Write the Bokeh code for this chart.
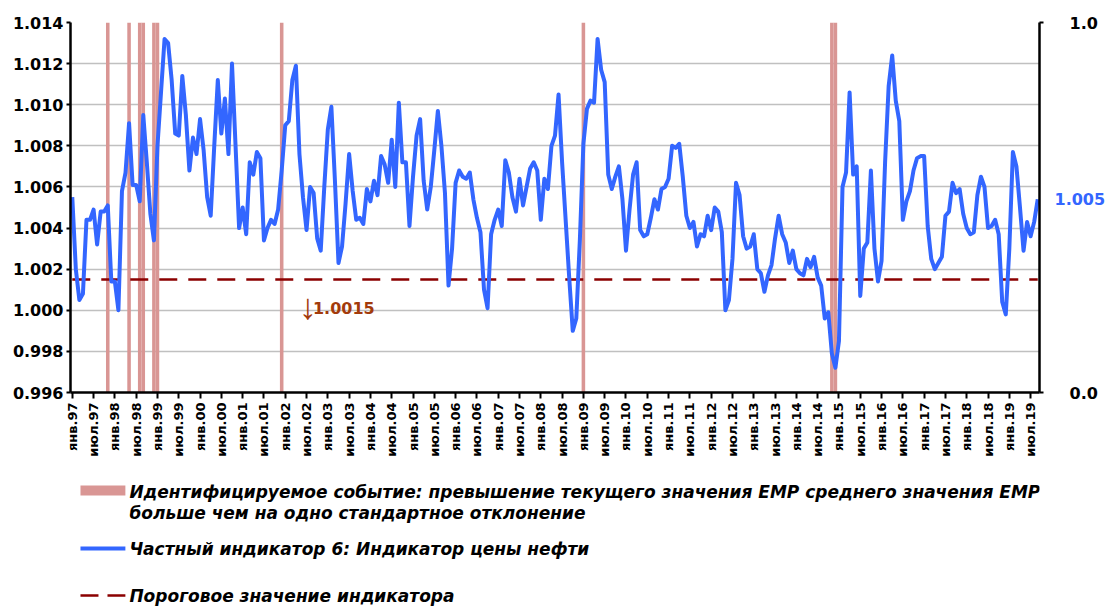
import math
from bokeh.plotting import figure
from bokeh.models import Range1d, LinearAxis, FixedTicker, Label, NumeralTickFormatter
from bokeh.layouts import column
from bokeh.embed import file_html
from bokeh.resources import INLINE

# ---------------- data ----------------
values_1997 = [1.0055, 1.0020, 1.0005, 1.0008, 1.0044, 1.0044, 1.0049, 1.0032, 1.0048, 1.0048, 1.0051, 1.0014]
values_1998 = [1.0014, 1.0000, 1.0058, 1.0067, 1.0091, 1.0061, 1.0061, 1.0053, 1.0095, 1.0072, 1.0047, 1.0034]
values_1999 = [1.0080, 1.0106, 1.0132, 1.0130, 1.0112, 1.0086, 1.0085, 1.0114, 1.0095, 1.0068, 1.0084, 1.0076]
values_2000 = [1.0093, 1.0078, 1.0055, 1.0046, 1.0080, 1.0112, 1.0086, 1.0103, 1.0076, 1.0120, 1.0080, 1.0040]
values_2001 = [1.0050, 1.0037, 1.0072, 1.0066, 1.0077, 1.0074, 1.0034, 1.0040, 1.0044, 1.0042, 1.0049, 1.0068]
values_2002 = [1.0090, 1.0092, 1.0112, 1.0119, 1.0076, 1.0055, 1.0039, 1.0060, 1.0057, 1.0035, 1.0029, 1.0060]
values_2003 = [1.0088, 1.0099, 1.0063, 1.0023, 1.0031, 1.0052, 1.0076, 1.0058, 1.0044, 1.0045, 1.0042, 1.0059]
values_2004 = [1.0053, 1.0063, 1.0056, 1.0075, 1.0071, 1.0062, 1.0083, 1.0060, 1.0101, 1.0072, 1.0072, 1.0041]
values_2005 = [1.0065, 1.0085, 1.0093, 1.0063, 1.0049, 1.0060, 1.0078, 1.0097, 1.0080, 1.0057, 1.0012, 1.0030]
values_2006 = [1.0062, 1.0068, 1.0065, 1.0064, 1.0067, 1.0054, 1.0045, 1.0038, 1.0010, 1.0001, 1.0037, 1.0044]
values_2007 = [1.0049, 1.0041, 1.0073, 1.0067, 1.0055, 1.0048, 1.0064, 1.0051, 1.0060, 1.0069, 1.0072, 1.0068]
values_2008 = [1.0044, 1.0064, 1.0059, 1.0080, 1.0085, 1.0105, 1.0072, 1.0044, 1.0016, 0.9990, 0.9996, 1.0034]
values_2009 = [1.0081, 1.0098, 1.0102, 1.0101, 1.0132, 1.0117, 1.0111, 1.0066, 1.0059, 1.0065, 1.0070, 1.0054]
values_2010 = [1.0029, 1.0049, 1.0066, 1.0072, 1.0039, 1.0036, 1.0037, 1.0045, 1.0054, 1.0049, 1.0059, 1.0060]
values_2011 = [1.0064, 1.0080, 1.0079, 1.0081, 1.0065, 1.0046, 1.0040, 1.0043, 1.0031, 1.0037, 1.0036, 1.0046]
values_2012 = [1.0039, 1.0050, 1.0048, 1.0038, 1.0000, 1.0005, 1.0025, 1.0062, 1.0056, 1.0036, 1.0030, 1.0031]
values_2013 = [1.0037, 1.0020, 1.0018, 1.0009, 1.0017, 1.0022, 1.0035, 1.0046, 1.0037, 1.0033, 1.0023, 1.0029]
values_2014 = [1.0020, 1.0018, 1.0017, 1.0025, 1.0021, 1.0026, 1.0016, 1.0012, 0.9996, 0.9999, 0.9979, 0.9972]
values_2015 = [0.9985, 1.0060, 1.0067, 1.0106, 1.0066, 1.0070, 1.0007, 1.0030, 1.0033, 1.0068, 1.0030, 1.0014]
values_2016 = [1.0024, 1.0072, 1.0109, 1.0124, 1.0102, 1.0092, 1.0044, 1.0053, 1.0058, 1.0068, 1.0074, 1.0075]
values_2017 = [1.0075, 1.0041, 1.0025, 1.0020, 1.0023, 1.0026, 1.0046, 1.0048, 1.0062, 1.0057, 1.0059, 1.0047]
values_2018 = [1.0040, 1.0037, 1.0038, 1.0056, 1.0065, 1.0060, 1.0040, 1.0041, 1.0044, 1.0037, 1.0004, 0.9998]
values_2019 = [1.0030, 1.0077, 1.0070, 1.0050, 1.0029, 1.0043, 1.0036, 1.0043, 1.0054]

oil_indicator = (values_1997 + values_1998 + values_1999 + values_2000 + values_2001 + values_2002
                 + values_2003 + values_2004 + values_2005 + values_2006 + values_2007 + values_2008
                 + values_2009 + values_2010 + values_2011 + values_2012 + values_2013 + values_2014
                 + values_2015 + values_2016 + values_2017 + values_2018 + values_2019)
months = list(range(len(oil_indicator)))          # 0 = янв.97

threshold_value = 1.0015
threshold = [threshold_value] * len(months)

# months (index from янв.97) in which the event was identified
event_months = [10, 16, 19, 20, 23, 24, 59, 144, 214, 215]
event_values = [1] * len(event_months)

tick_labels = ["янв.97", "июл.97", "янв.98", "июл.98", "янв.99", "июл.99", "янв.00", "июл.00",
               "янв.01", "июл.01", "янв.02", "июл.02", "янв.03", "июл.03", "янв.04", "июл.04",
               "янв.05", "июл.05", "янв.06", "июл.06", "янв.07", "июл.07", "янв.08", "июл.08",
               "янв.09", "июл.09", "янв.10", "июл.10", "янв.11", "июл.11", "янв.12", "июл.12",
               "янв.13", "июл.13", "янв.14", "июл.14", "янв.15", "июл.15", "янв.16", "июл.16",
               "янв.17", "июл.17", "янв.18", "июл.18", "янв.19", "июл.19"]
tick_positions = [6 * k for k in range(len(tick_labels))]
left_ticks = [0.996, 0.998, 1.000, 1.002, 1.004, 1.006, 1.008, 1.010, 1.012, 1.014]
right_ticks = [0, 1]

legend_event = ["Идентифицируемое событие: превышение текущего значения  EMP среднего значения  EMP",
                "больше чем на одно стандартное отклонение"]
legend_line = "Частный индикатор 6: Индикатор цены нефти"
legend_threshold = "Пороговое значение  индикатора"

BLUE = "#3366FF"
PINK = "#D99694"
DARKRED = "#8B0000"
BROWN = "#A33B0B"
FONT = "DejaVu Sans"

# page geometry of the plotting frame
FRAME_L, FRAME_R = 70, 1041
FIG_W = 1108

# ---------------- main chart ----------------
p = figure(width=FIG_W, height=470, output_backend="svg", toolbar_location=None,
           x_range=Range1d(-0.5, len(months) - 0.5), y_range=Range1d(0.996, 1.014),
           min_border_left=FRAME_L, min_border_right=FIG_W - FRAME_R,
           min_border_top=22, min_border_bottom=78)
p.outline_line_color = None
p.extra_y_ranges = {"ev": Range1d(0, 1)}

p.vbar(x=event_months, top=event_values, bottom=0, width=1.0, y_range_name="ev",
       fill_color=PINK, line_color=None)
p.line(months, threshold, line_color=DARKRED, line_width=2.5, line_dash="18 11")
p.line(months, oil_indicator, line_color=BLUE, line_width=4, line_join="round")

p.xgrid.visible = False
p.ygrid.grid_line_color = "#C0C0C0"
p.ygrid.grid_line_width = 1.5

yax = p.yaxis[0]
yax.ticker = FixedTicker(ticks=left_ticks)
yax.formatter = NumeralTickFormatter(format="0.000")

rax = LinearAxis(y_range_name="ev", ticker=FixedTicker(ticks=right_ticks),
                 formatter=NumeralTickFormatter(format="0.0"))
p.add_layout(rax, "right")

xax = p.xaxis[0]
xax.ticker = FixedTicker(ticks=tick_positions)
xax.major_label_overrides = {pos: lab for pos, lab in zip(tick_positions, tick_labels)}
xax.major_label_orientation = math.pi / 2
xax.major_label_text_font_size = "13px"
xax.major_tick_out = 6
xax.major_label_standoff = 4

for ax in (yax, rax, xax):
    ax.axis_line_color = "black"
    ax.axis_line_width = 2.5
    ax.major_tick_line_color = "black"
    ax.major_tick_line_width = 2
    ax.major_tick_in = 0
    ax.minor_tick_line_color = None
    ax.major_label_text_font = FONT
    ax.major_label_text_font_style = "bold"
    ax.major_label_text_color = "black"
for ax in (yax, rax):
    ax.major_label_text_font_size = "16px"
    ax.major_tick_out = 4
yax.major_label_standoff = 3
rax.major_label_standoff = 26

# data label of the last point, shown at the right side as an extra (line-less) axis label
last_val = oil_indicator[-1]
lab_ax = LinearAxis(ticker=FixedTicker(ticks=[last_val]), formatter=NumeralTickFormatter(format="0.000"))
lab_ax.axis_line_color = None
lab_ax.major_tick_line_color = None
lab_ax.minor_tick_line_color = None
lab_ax.major_tick_out = 0
lab_ax.major_tick_in = 0
lab_ax.major_label_standoff = -46
lab_ax.major_label_text_color = BLUE
lab_ax.major_label_text_font = FONT
lab_ax.major_label_text_font_style = "bold"
lab_ax.major_label_text_font_size = "16px"
p.add_layout(lab_ax, "right")

p.add_layout(Label(x=63.9, y=1.00018, text="↓", text_color=BROWN, text_font="Liberation Sans",
                   text_font_size="36px", text_baseline="middle", text_align="left"))
p.add_layout(Label(x=67.8, y=1.00013, text=f"{threshold_value:.4f}", text_color=BROWN,
                   text_font=FONT, text_font_style="bold", text_font_size="16px",
                   text_baseline="middle", text_align="left"))

# ---------------- legend (coordinates = page pixels) ----------------
q = figure(width=FIG_W, height=138, output_backend="svg", toolbar_location=None,
           x_range=Range1d(FRAME_L, FRAME_R), y_range=Range1d(608, 470),
           min_border_left=FRAME_L, min_border_right=FIG_W - FRAME_R,
           min_border_top=0, min_border_bottom=0,
           x_axis_location=None, y_axis_location=None)
q.outline_line_color = None
q.grid.visible = False

q.quad(left=[80], right=[125], top=[485], bottom=[495], fill_color=PINK, line_color=None)
q.line([80, 125], [548, 548], line_color=BLUE, line_width=4)
q.line([80, 125], [595, 595], line_color=DARKRED, line_width=2.5, line_dash="18 9")

leg_style = dict(text_font=FONT, text_font_style="bold italic", text_font_size="17px",
                 text_color="black", text_baseline="middle", text_align="left")
q.add_layout(Label(x=129, y=491, text=legend_event[0], **leg_style))
q.add_layout(Label(x=129, y=512, text=legend_event[1], **leg_style))
q.add_layout(Label(x=129, y=548, text=legend_line, **leg_style))
q.add_layout(Label(x=129, y=595, text=legend_threshold, **leg_style))

layout = column(p, q, spacing=0)
open("out.html", "w").write(file_html(layout, INLINE))
